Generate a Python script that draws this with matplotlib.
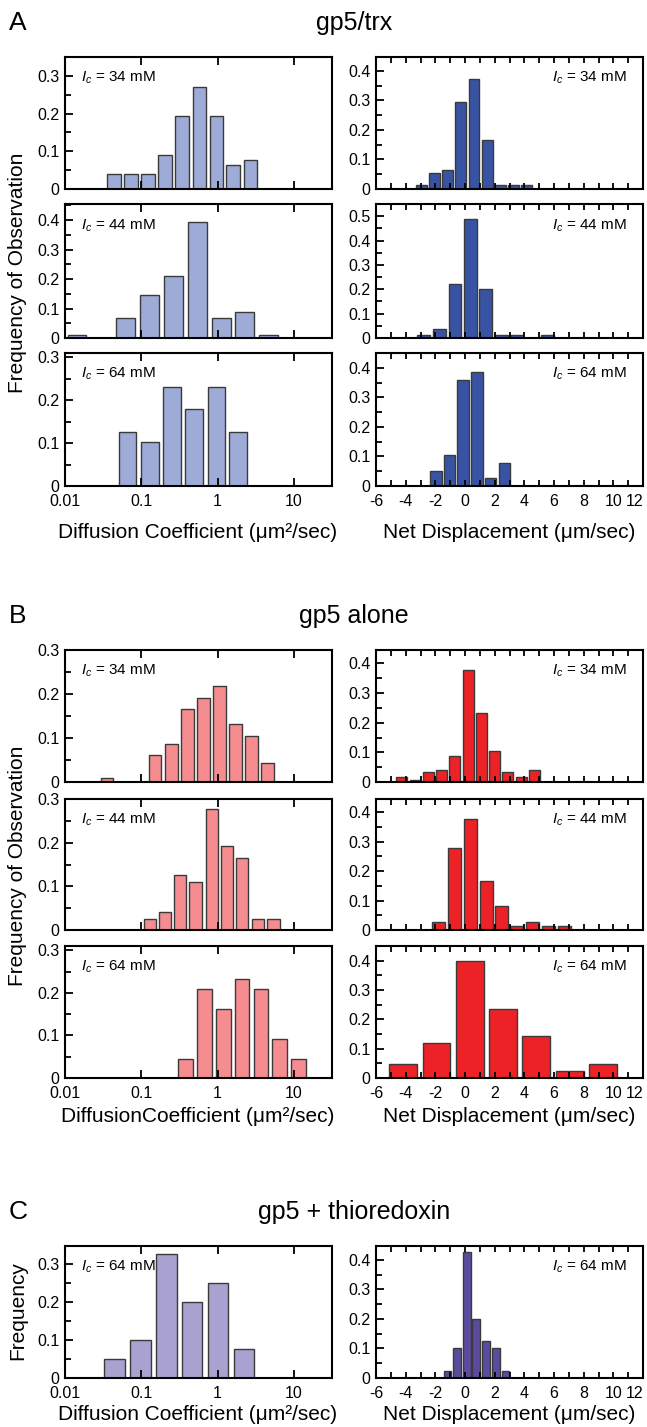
import numpy as np
import matplotlib
matplotlib.use("Agg")
import matplotlib.pyplot as plt
from matplotlib.ticker import MultipleLocator, FixedLocator, FuncFormatter, NullLocator

plt.rcParams['font.family'] = ['Liberation Sans', 'DejaVu Sans']
plt.rcParams['mathtext.fontset'] = 'custom'
plt.rcParams['mathtext.rm'] = 'Liberation Sans'
plt.rcParams['mathtext.it'] = 'Liberation Sans:italic'
plt.rcParams['axes.unicode_minus'] = False

# ---- data ----
# diffusion coefficient histograms: bin centres in log10(um^2/sec), frequency
a_diff_34_x = [-1.36, -1.135, -0.912, -0.686, -0.464, -0.239, -0.016, 0.205, 0.429]
a_diff_34_y = [0.039, 0.039, 0.039, 0.090, 0.193, 0.271, 0.193, 0.064, 0.077]
a_diff_44_x = [-1.843, -1.203, -0.892, -0.582, -0.268, 0.046, 0.357, 0.673]
a_diff_44_y = [0.011, 0.067, 0.145, 0.211, 0.395, 0.067, 0.089, 0.011]
a_diff_64_x = [-1.180, -0.889, -0.597, -0.310, -0.017, 0.270]
a_diff_64_y = [0.127, 0.103, 0.230, 0.180, 0.230, 0.127]

b_diff_34_x = [-1.449, -0.821, -0.608, -0.399, -0.185, 0.028, 0.238, 0.447, 0.656]
b_diff_34_y = [0.008, 0.0615, 0.087, 0.166, 0.192, 0.218, 0.131, 0.105, 0.043]
b_diff_44_x = [-0.889, -0.689, -0.488, -0.288, -0.078, 0.122, 0.323, 0.527, 0.732]
b_diff_44_y = [0.026, 0.041, 0.125, 0.110, 0.278, 0.193, 0.166, 0.026, 0.026]
b_diff_64_x = [-0.418, -0.167, 0.076, 0.320, 0.569, 0.813, 1.056]
b_diff_64_y = [0.045, 0.209, 0.162, 0.232, 0.209, 0.092, 0.045]

c_diff_64_x = [-1.349, -1.011, -0.671, -0.333, 0.004, 0.344]
c_diff_64_y = [0.049, 0.100, 0.326, 0.200, 0.250, 0.075]

# net displacement histograms: bin centres in um/sec, frequency
a_disp_34_x = [-2.94, -2.07, -1.17, -0.28, 0.61, 1.49, 2.37, 3.25, 4.14]
a_disp_34_y = [0.0135, 0.053, 0.065, 0.295, 0.372, 0.167, 0.0135, 0.0135, 0.0135]
a_disp_44_x = [-2.77, -1.73, -0.67, 0.36, 1.40, 2.45, 3.49, 5.58]
a_disp_44_y = [0.014, 0.035, 0.222, 0.490, 0.200, 0.014, 0.014, 0.014]
a_disp_64_x = [-1.96, -1.04, -0.12, 0.81, 1.73, 2.66]
a_disp_64_y = [0.052, 0.104, 0.360, 0.385, 0.026, 0.078]

b_disp_34_x = [-4.29, -3.37, -2.48, -1.58, -0.70, 0.21, 1.09, 1.99, 2.88, 3.78, 4.68]
b_disp_34_y = [0.016, 0.008, 0.033, 0.042, 0.086, 0.377, 0.232, 0.103, 0.033, 0.016, 0.042]
b_disp_44_x = [-1.76, -0.68, 0.36, 1.42, 2.46, 3.50, 4.57, 5.62, 6.68]
b_disp_44_y = [0.028, 0.277, 0.377, 0.166, 0.083, 0.012, 0.027, 0.012, 0.012]
b_disp_64_x = [-4.16, -1.92, 0.33, 2.57, 4.81, 7.08, 9.32]
b_disp_64_y = [0.048, 0.118, 0.400, 0.235, 0.142, 0.025, 0.048]

c_disp_64_x = [-1.18, -0.545, 0.12, 0.77, 1.44, 2.09, 2.73]
c_disp_64_y = [0.025, 0.100, 0.426, 0.200, 0.125, 0.100, 0.025]

ionic = ['34', '44', '64']
log_ticks = [0.01, 0.1, 1, 10]

# ---- layout (pixels) ----
W, H = 647, 1427
fig = plt.figure(figsize=(W / 100, H / 100), dpi=100)

def rect(x0, x1, top, bottom):
    return [x0 / W, 1 - bottom / H, (x1 - x0) / W, (bottom - top) / H]

def ftext(x, y, s, **kw):
    fig.text(x / W, 1 - y / H, s, **kw)

LEFT = (65, 332)
RIGHT = (376, 643)
EDGE = '#3a3a3a'
TICK_FS = 11.5
LABEL_FS = 15

yfmt = FuncFormatter(lambda v, p: '0' if abs(v) < 1e-9 else f'{v:.1f}')


def style_axis(ax, ymax, show_labels):
    for s in ax.spines.values():
        s.set_linewidth(1.5)
    ax.set_ylim(0, ymax)
    ax.yaxis.set_major_locator(MultipleLocator(0.1))
    ax.yaxis.set_minor_locator(MultipleLocator(0.05))
    ax.yaxis.set_major_formatter(yfmt)
    ax.tick_params(axis='y', which='major', direction='in', length=6, width=1.3,
                   labelsize=TICK_FS, pad=4, right=False)
    ax.tick_params(axis='y', which='minor', direction='in', length=4, width=1.3, right=False)
    ax.tick_params(axis='x', labelbottom=show_labels)


def diff_panel(top, bottom, xs, ys, color, ymax, label, show_labels):
    ax = fig.add_axes(rect(LEFT[0], LEFT[1], top, bottom))
    c = np.array(xs)
    w = 0.8 * np.min(np.diff(c))
    lo = 10 ** (c - w / 2)
    hi = 10 ** (c + w / 2)
    ax.bar(lo, ys, width=hi - lo, align='edge', color=color, edgecolor=EDGE, linewidth=1.0)
    ax.set_xscale('log')
    ax.set_xlim(0.01, 10 ** 1.5)
    ax.xaxis.set_major_locator(FixedLocator(log_ticks))
    ax.xaxis.set_minor_locator(NullLocator())
    ax.xaxis.set_major_formatter(FuncFormatter(lambda v, p: f'{v:g}'))
    ax.tick_params(axis='x', which='major', direction='in', length=6, width=1.3,
                   top=True, labelsize=TICK_FS, pad=6)
    style_axis(ax, ymax, show_labels)
    ax.text(0.06, 0.84, r'$I_c$' + f' = {label} mM', transform=ax.transAxes,
            fontsize=11, ha='left', va='center')
    return ax


def disp_panel(top, bottom, xs, ys, color, ymax, label, show_labels):
    ax = fig.add_axes(rect(RIGHT[0], RIGHT[1], top, bottom))
    c = np.array(xs)
    w = 0.84 * np.min(np.diff(c))
    ax.bar(c, ys, width=w, color=color, edgecolor=EDGE, linewidth=1.0)
    ax.set_xlim(-6, 12)
    ax.set_xticks(range(-6, 13, 2))
    ax.xaxis.set_minor_locator(MultipleLocator(1))
    ax.tick_params(axis='x', which='both', direction='in', length=4, width=1.3,
                   top=True, labelsize=TICK_FS, pad=6)
    # last label ("12") sits flush with the right edge, as in the source figure
    ax.xaxis.get_major_ticks()[-1].label1.set_horizontalalignment('right')
    style_axis(ax, ymax, show_labels)
    ax.text(0.94, 0.84, r'$I_c$' + f' = {label} mM', transform=ax.transAxes,
            fontsize=11, ha='right', va='center')
    return ax


# ---- panel A: gp5/trx ----
rows_a = [(57, 189), (204, 338), (353, 486)]
a_diff = [(a_diff_34_x, a_diff_34_y, 0.35), (a_diff_44_x, a_diff_44_y, 0.455), (a_diff_64_x, a_diff_64_y, 0.31)]
a_disp = [(a_disp_34_x, a_disp_34_y, 0.447), (a_disp_44_x, a_disp_44_y, 0.55), (a_disp_64_x, a_disp_64_y, 0.45)]
for i, (t, b) in enumerate(rows_a):
    diff_panel(t, b, a_diff[i][0], a_diff[i][1], '#9dabd6', a_diff[i][2], ionic[i], i == 2)
    disp_panel(t, b, a_disp[i][0], a_disp[i][1], '#3953a4', a_disp[i][2], ionic[i], i == 2)

# ---- panel B: gp5 alone ----
rows_b = [(650, 782), (799, 930), (946, 1078)]
b_diff = [(b_diff_34_x, b_diff_34_y, 0.3), (b_diff_44_x, b_diff_44_y, 0.3), (b_diff_64_x, b_diff_64_y, 0.31)]
b_disp = [(b_disp_34_x, b_disp_34_y, 0.445), (b_disp_44_x, b_disp_44_y, 0.445), (b_disp_64_x, b_disp_64_y, 0.45)]
for i, (t, b) in enumerate(rows_b):
    diff_panel(t, b, b_diff[i][0], b_diff[i][1], '#f48c90', b_diff[i][2], ionic[i], i == 2)
    disp_panel(t, b, b_disp[i][0], b_disp[i][1], '#ec2227', b_disp[i][2], ionic[i], i == 2)

# ---- panel C: gp5 + thioredoxin ----
diff_panel(1246, 1378, c_diff_64_x, c_diff_64_y, '#a9a1cf', 0.347, '64', True)
disp_panel(1246, 1378, c_disp_64_x, c_disp_64_y, '#5b4b9e', 0.447, '64', True)

# ---- labels and titles ----
for letter, title, y in [('A', 'gp5/trx', 23), ('B', 'gp5 alone', 616), ('C', 'gp5 + thioredoxin', 1212)]:
    ftext(9, y, letter, fontsize=19, ha='left', va='center')
    ftext(354, y, title, fontsize=18, ha='center', va='center')

ftext(198, 533, 'Diffusion Coefficient (\u03bcm\u00b2/sec)', fontsize=LABEL_FS, ha='center', va='center')
ftext(509, 533, 'Net Displacement (\u03bcm/sec)', fontsize=LABEL_FS, ha='center', va='center')
ftext(198, 1117, 'DiffusionCoefficient (\u03bcm\u00b2/sec)', fontsize=LABEL_FS, ha='center', va='center')
ftext(509, 1117, 'Net Displacement (\u03bcm/sec)', fontsize=LABEL_FS, ha='center', va='center')
ftext(198, 1415, 'Diffusion Coefficient (\u03bcm\u00b2/sec)', fontsize=LABEL_FS, ha='center', va='center')
ftext(509, 1415, 'Net Displacement (\u03bcm/sec)', fontsize=LABEL_FS, ha='center', va='center')

ftext(18, 273, 'Frequency of Observation', fontsize=LABEL_FS, rotation=90, ha='center', va='center')
ftext(18, 866, 'Frequency of Observation', fontsize=LABEL_FS, rotation=90, ha='center', va='center')
ftext(18, 1311, 'Frequency', fontsize=LABEL_FS, rotation=90, ha='center', va='center')

fig.savefig('out.png', dpi=100)
